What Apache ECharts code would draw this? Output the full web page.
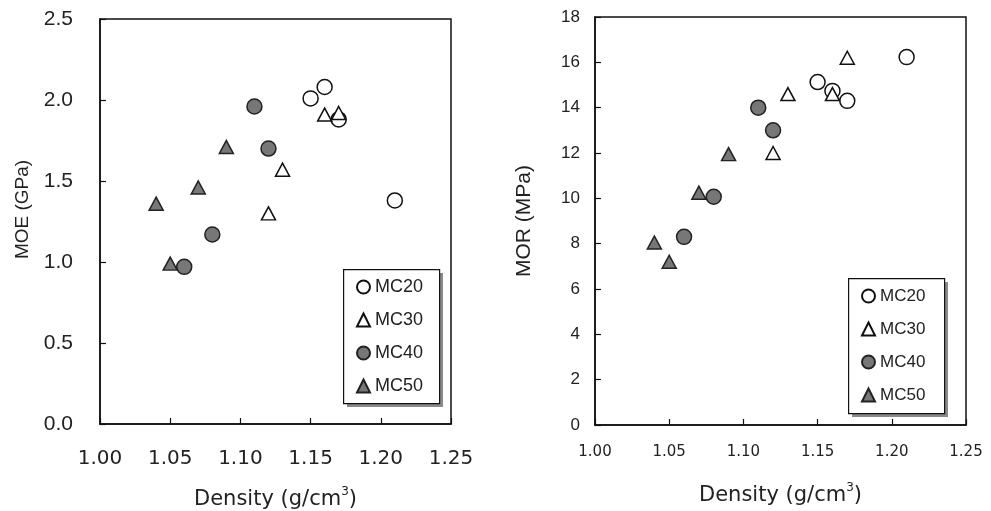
<!DOCTYPE html>
<html>
<head>
<meta charset="utf-8">
<script src="https://cdn.jsdelivr.net/npm/echarts@6/dist/echarts.min.js"></script>
<style>
html,body{margin:0;padding:0;background:#fff;}
#c{width:991px;height:511px;}
</style>
</head>
<body>
<div id="c"></div>
<script>
// ---- data ----
const seriesNames = ['MC20', 'MC30', 'MC40', 'MC50'];
const densityMC20 = [1.15, 1.16, 1.17, 1.21];
const moeMC20 = [2.01, 2.08, 1.88, 1.38];
const morMC20 = [15.13, 14.74, 14.30, 16.23];

const densityMC30 = [1.12, 1.13, 1.16, 1.17];
const moeMC30 = [1.30, 1.57, 1.91, 1.92];
const morMC30 = [12.0, 14.6, 14.6, 16.2];

const densityMC40 = [1.06, 1.08, 1.11, 1.12];
const moeMC40 = [0.97, 1.17, 1.96, 1.70];
const morMC40 = [8.3, 10.07, 14.0, 13.0];

const densityMC50 = [1.04, 1.05, 1.07, 1.09];
const moeMC50 = [1.36, 0.99, 1.46, 1.71];
const morMC50 = [8.05, 7.2, 10.25, 11.95];

const xAxisName = 'Density (g/cm{sup|3})';
const yAxisNameLeft = 'MOE (GPa)';
const yAxisNameRight = 'MOR (MPa)';

// ---- build ----
const densities = [densityMC20, densityMC30, densityMC40, densityMC50];
const moe = [moeMC20, moeMC30, moeMC40, moeMC50];
const mor = [morMC20, morMC30, morMC40, morMC50];
const symbols = ['circle', 'triangle', 'circle', 'triangle'];
const fills = ['#ffffff', '#ffffff', '#777777', '#777777'];
const borders = ['#111111', '#111111', '#222222', '#222222'];
const FONT = 'Liberation Sans, Arial, sans-serif';
const WFONT = 'DejaVu Sans, sans-serif';

function pairs(xs, ys) { return xs.map((x, i) => [x, ys[i]]); }

const series = [];
[0, 1].forEach(function (g) {
  seriesNames.forEach(function (name, i) {
    series.push({
      name: name,
      type: 'scatter',
      xAxisIndex: g,
      yAxisIndex: g,
      symbol: symbols[i],
      symbolSize: symbols[i] === 'circle' ? 15 : [14, 13],
      itemStyle: { color: fills[i], borderColor: borders[i], borderWidth: 1.5, opacity: 1 },
      data: pairs(densities[i], g === 0 ? moe[i] : mor[i]),
      z: 3
    });
  });
});

function legendData() {
  return seriesNames.map(function (n, i) {
    return { name: n, icon: symbols[i] };
  });
}

function xAxis(gridIndex, fontSize, margin, nameGap, nameSize) {
  return {
    type: 'value', gridIndex: gridIndex, min: 1.0, max: 1.25, interval: 0.05,
    axisLine: { lineStyle: { color: '#111', width: 1.5 } },
    axisTick: { inside: true, length: 6, lineStyle: { color: '#111', width: 1.2 } },
    splitLine: { show: false },
    axisLabel: { color: '#222', fontSize: fontSize, fontFamily: WFONT, margin: margin,
      formatter: function (v) { return v.toFixed(2); } },
    name: xAxisName, nameLocation: 'middle', nameGap: nameGap,
    nameTextStyle: { color: '#222', fontSize: nameSize, fontFamily: WFONT,
      rich: { sup: { fontSize: 12, fontFamily: WFONT, color: '#222', padding: [0, 0, 16, 0] } } }
  };
}

function legendBox(x, y, w, h) {
  return [
    { type: 'rect', left: x + 4, top: y + 4, z: 5, silent: true,
      shape: { width: w, height: h }, style: { fill: '#8a8a8a', stroke: null } },
    { type: 'rect', left: x, top: y, z: 6, silent: true,
      shape: { width: w, height: h }, style: { fill: '#fff', stroke: '#111', lineWidth: 1.2 } }
  ];
}

const option = {
  backgroundColor: '#fff',
  animation: false,
  grid: [
    { left: 100, top: 19, width: 351, height: 405, show: true, borderColor: '#111', borderWidth: 1.5,
      backgroundColor: 'transparent', containLabel: false, outerBoundsMode: 'none' },
    { left: 595, top: 17, width: 371, height: 408, show: true, borderColor: '#111', borderWidth: 1.5,
      backgroundColor: 'transparent', containLabel: false, outerBoundsMode: 'none' }
  ],
  graphic: legendBox(343, 269, 96, 134).concat(legendBox(848, 278, 96, 135)),
  xAxis: [
    xAxis(0, 20, 25, 62, 21),
    xAxis(1, 15, 20, 57, 21)
  ],
  yAxis: [
    {
      type: 'value', gridIndex: 0, min: 0, max: 2.5, interval: 0.5,
      axisLine: { show: true, lineStyle: { color: '#111', width: 1.5 } },
      axisTick: { show: true, inside: true, length: 6, lineStyle: { color: '#111', width: 1.2 } },
      splitLine: { show: false },
      axisLabel: { color: '#222', fontSize: 21, fontFamily: FONT, margin: 27,
        formatter: function (v) { return v.toFixed(1); } },
      name: yAxisNameLeft, nameLocation: 'middle', nameGap: 68,
      nameTextStyle: { color: '#222', fontSize: 19, fontFamily: FONT, padding: [0, 0, 0, 24] }
    },
    {
      type: 'value', gridIndex: 1, min: 0, max: 18, interval: 2,
      axisLine: { show: true, lineStyle: { color: '#111', width: 1.5 } },
      axisTick: { show: true, inside: true, length: 6, lineStyle: { color: '#111', width: 1.2 } },
      splitLine: { show: false },
      axisLabel: { color: '#222', fontSize: 17, fontFamily: FONT, margin: 15 },
      name: yAxisNameRight, nameLocation: 'middle', nameGap: 60,
      nameTextStyle: { color: '#222', fontSize: 21, fontFamily: FONT }
    }
  ],
  legend: [
    {
      orient: 'vertical', left: 343, top: 269, z: 8,
      data: legendData(),
      itemWidth: 13, itemHeight: 13, itemGap: 13, itemTextGap: 6,
      padding: [8, 14, 8, 13],
      textStyle: { color: '#222', fontSize: 18, fontFamily: FONT, lineHeight: 20 },
      selectedMode: false
    },
    {
      orient: 'vertical', left: 848, top: 278, z: 8,
      data: legendData(),
      itemWidth: 13, itemHeight: 13, itemGap: 13, itemTextGap: 6,
      padding: [8, 14, 8, 13],
      textStyle: { color: '#222', fontSize: 17, fontFamily: FONT, lineHeight: 20 },
      selectedMode: false
    }
  ],
  series: series
};

const chart = echarts.init(document.getElementById('c'), null, { renderer: 'canvas' });
chart.setOption(option);
</script>
</body>
</html>
